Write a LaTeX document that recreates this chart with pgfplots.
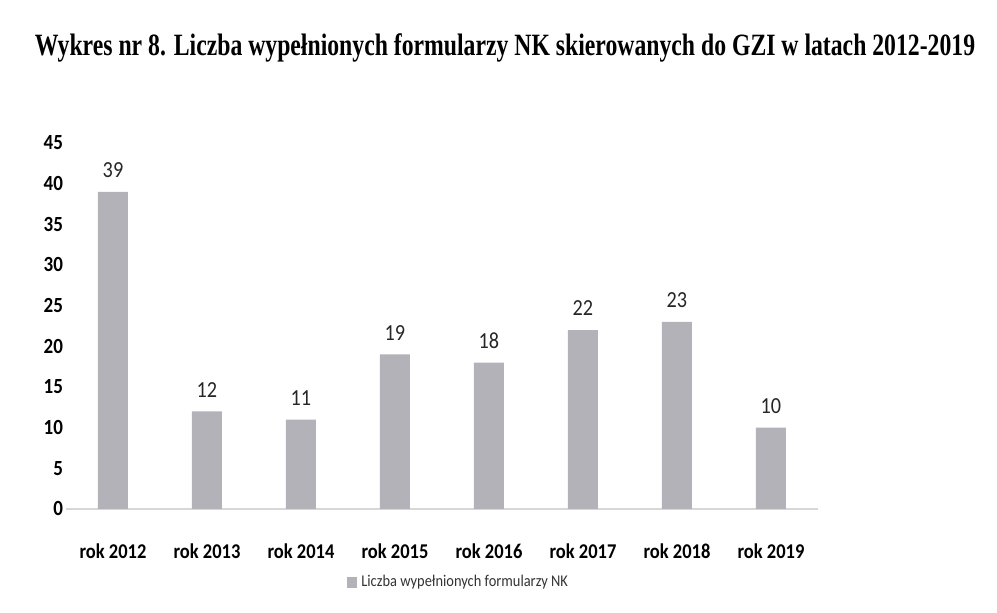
\documentclass[border=0pt]{standalone}
\usepackage{fontspec}
\usepackage{pgfplots}
\pgfplotsset{compat=1.18}
\setmainfont{Carlito}
\newfontfamily\narrowfont[FakeStretch=0.88]{Carlito}
\newfontfamily\titlefont[FakeStretch=0.765]{Liberation Serif}
\definecolor{barfill}{RGB}{178,178,184}
\definecolor{axisgray}{RGB}{215,215,215}

\begin{document}
\begin{tikzpicture}[x=1pt,y=1pt]
\path[use as bounding box] (0,0) rectangle (498.5,306.5);
\node[font=\titlefont\bfseries\fontsize{15.5}{17}\selectfont] at (252.5,282.5)
  {Wykres nr 8. Liczba wypełnionych formularzy NK skierowanych do GZI w latach 2012-2019};
\begin{axis}[
    at={(33pt,52pt)}, anchor=south west,
    scale only axis, width=376pt, height=183pt,
    ybar, bar width=15pt,
    xmin=-0.5, xmax=7.5, ymin=0, ymax=45,
    xtick={0,...,7}, ytick={0,5,...,45},
    xticklabels={rok 2012,rok 2013,rok 2014,rok 2015,rok 2016,rok 2017,rok 2018,rok 2019},
    axis x line*=bottom, axis y line*=left,
    x axis line style={axisgray, line width=0.8pt},
    y axis line style={draw=none},
    tick style={draw=none},
    xticklabel style={font=\narrowfont\bfseries\fontsize{10.5}{12}\selectfont, yshift=-9.5pt},
    yticklabel style={font=\narrowfont\bfseries\fontsize{10.8}{12}\selectfont, xshift=2pt},
    /pgf/number format/assume math mode=true,
    nodes near coords,
    every node near coord/.append style={font=\narrowfont\fontsize{11.5}{13}\selectfont, anchor=south, yshift=3.5pt, black!85},
    legend style={at={(0.523,-0.2)}, anchor=center, draw=none,
        font=\narrowfont\fontsize{8.2}{10}\selectfont, text=black!80},
    legend image code/.code={\fill[barfill] (0pt,-2.7pt) rectangle (5.4pt,2.7pt);},
]
\addplot[fill=barfill, draw=none] coordinates {
(0,39)(1,12)(2,11)(3,19)(4,18)(5,22)(6,23)(7,10)
};
\addlegendentry{Liczba wypełnionych formularzy NK}
\end{axis}
\end{tikzpicture}
\end{document}
